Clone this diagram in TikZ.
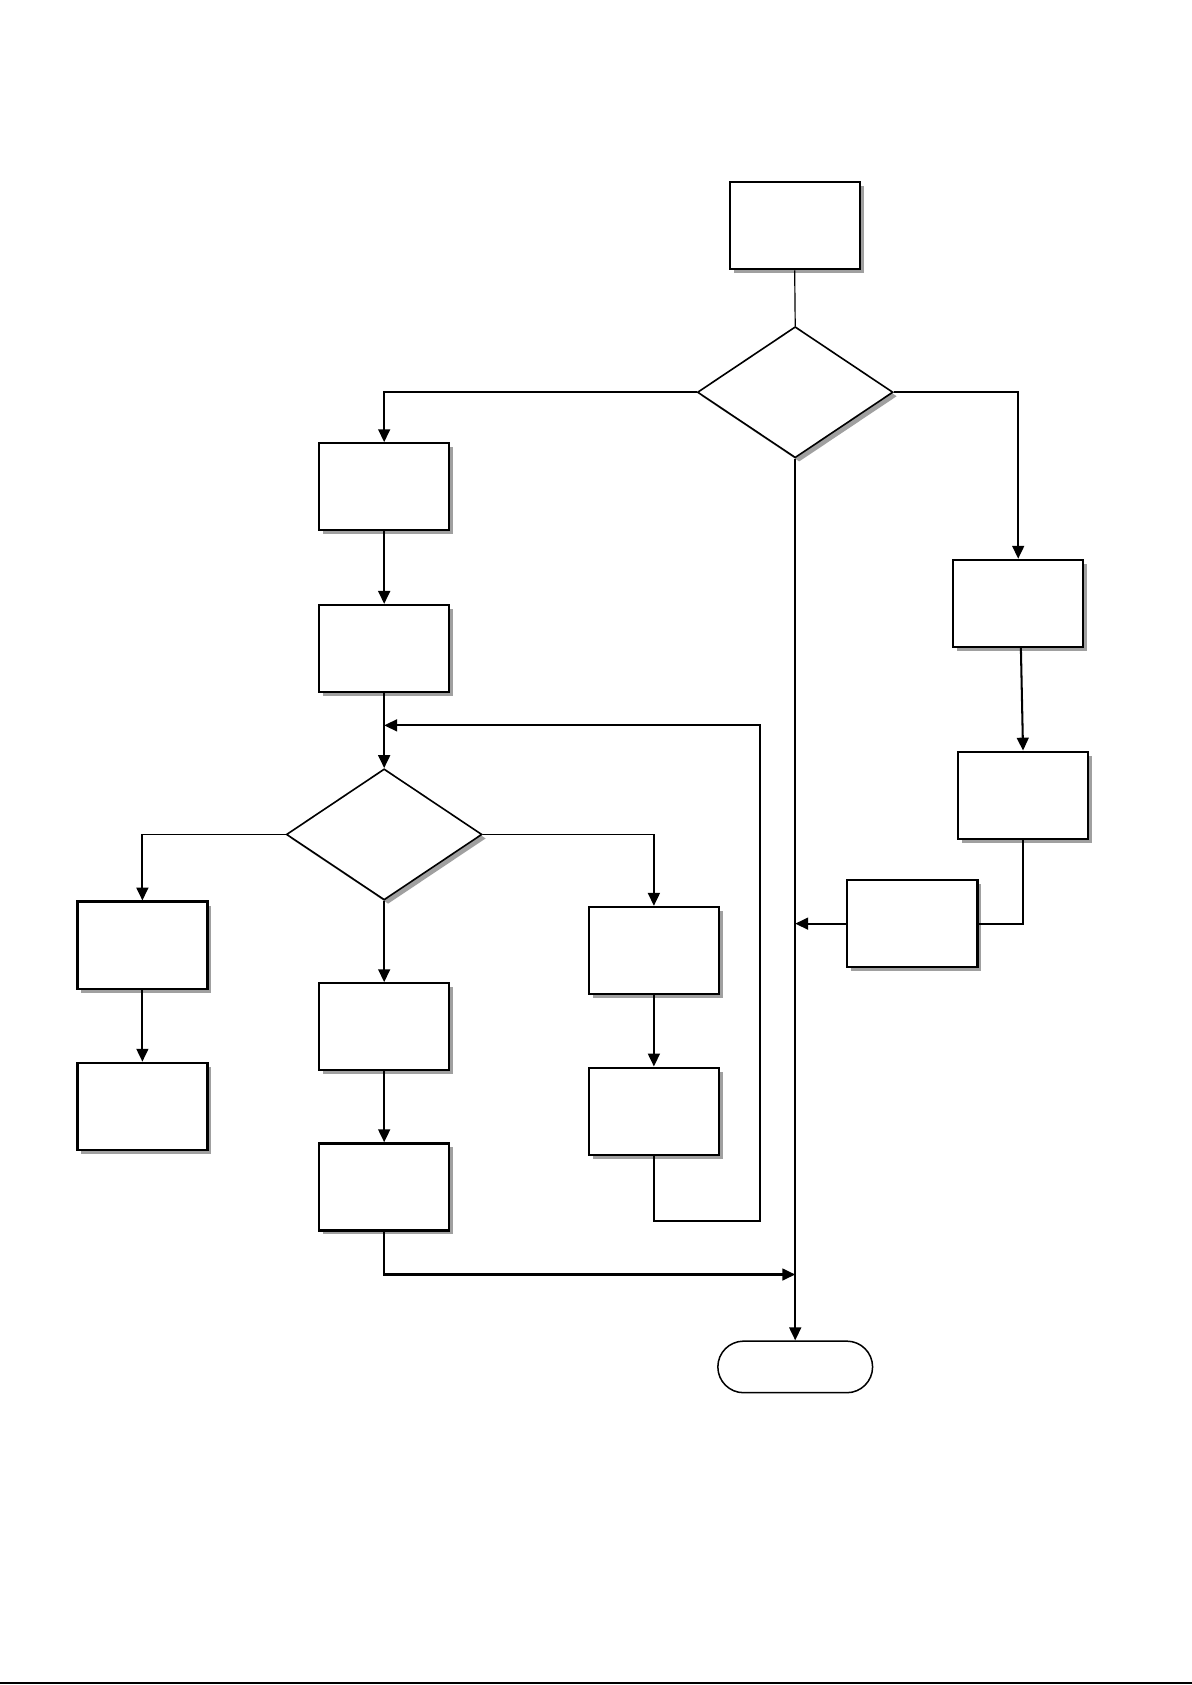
\documentclass[tikz,border=0pt]{standalone}
\usetikzlibrary{shapes.geometric,shadows,arrows.meta}
\definecolor{shadowgray}{RGB}{160,160,160}
\begin{document}
\begin{tikzpicture}[x=1pt,y=-1pt,
  boxshape/.style={draw, line width=2.1pt, fill=white, minimum width=121pt, minimum height=81pt, inner sep=0pt,
    drop shadow={shadow xshift=3.7pt, shadow yshift=-3.7pt, fill=shadowgray, opacity=1}},
  decision/.style={diamond, draw, line width=1.5pt, fill=white, minimum width=182pt, minimum height=122pt, inner sep=0pt, aspect=1.5,
    drop shadow={shadow xshift=3.7pt, shadow yshift=-3.7pt, fill=shadowgray, opacity=1}},
  terminal/.style={draw, line width=1.4pt, rounded corners=24pt, minimum width=144pt, minimum height=48pt, inner sep=0pt},
  flow/.style={line width=1.9pt, -{Triangle[length=12pt,width=11pt]}},
  plain/.style={line width=1.9pt},
  thinline/.style={line width=1.1pt}
]
\useasboundingbox (0,0) rectangle (1109,1568);
\fill[white] (0,0) rectangle (1109,1568);

% nodes
\node[boxshape] (top) at (739.5,210) {};
\node[decision] (d1) at (740,365) {};
\node[boxshape] (A) at (357.5,453) {};
\node[boxshape] (B) at (357.5,603.5) {};
\node[decision] (d2) at (357.5,776.5) {};
\node[boxshape] (C) at (132.5,879.5) {};
\node[boxshape] (D) at (132.5,1029.5) {};
\node[boxshape] (E) at (357.5,955.5) {};
\node[boxshape] (F) at (357.5,1104.5) {};
\node[boxshape] (G) at (608.5,884.5) {};
\node[boxshape] (H) at (608.5,1034) {};
\node[boxshape] (R1) at (947.5,561.5) {};
\node[boxshape] (R2) at (952,740) {};
\node[boxshape] (R3) at (849,859.5) {};
\node[terminal] (term) at (740,1272) {};

% helper coordinates
\coordinate (j1) at (357.5,675);
\coordinate (lb) at (707,1136);
\coordinate (cl) at (132.5,776.5);
\coordinate (cr) at (608.5,776.5);
\coordinate (jm) at (740,1186);
\coordinate (jr) at (740,859.5);

% connectors
\draw[thinline] (top.south) -- (d1.north);
\draw[flow] (d1.west) -| (A.north);
\draw[flow] (d1.east) -| (R1.north);
\draw[flow] (d1.south) -- (term.north);
\draw[flow] (A.south) -- (B.north);
\draw[flow] (B.south) -- (d2.north);
\draw[flow] (H.south) |- (lb) |- (j1);
\draw[thinline] (d2.west) -- (cl);
\draw[flow] (cl) -- (C.north);
\draw[thinline] (d2.east) -- (cr);
\draw[flow] (cr) -- (G.north);
\draw[flow] (C.south) -- (D.north);
\draw[flow] (d2.south) -- (E.north);
\draw[flow] (E.south) -- (F.north);
\draw[flow] (F.south) |- (jm);
\draw[flow] (G.south) -- (H.north);
\draw[flow] ([xshift=2.5pt]R1.south) -- (R2.north);
\draw[plain] (R2.south) |- (R3.east);
\draw[flow] (R3.west) -- (jr);

% bottom edge line
\draw[line width=1.8pt] (0,1566.5) -- (1109,1566.5);
\end{tikzpicture}
\end{document}
